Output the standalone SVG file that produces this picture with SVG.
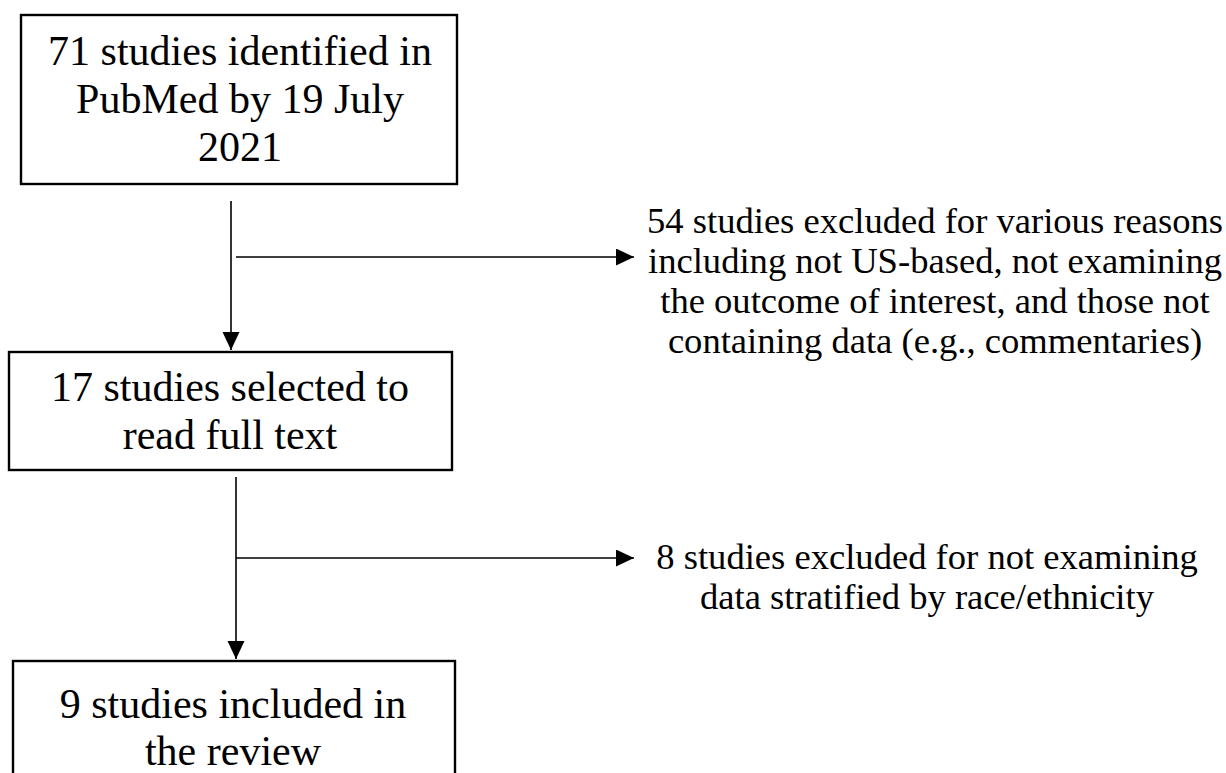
<svg xmlns="http://www.w3.org/2000/svg" width="1226" height="773" viewBox="0 0 1226 773">
  <style>
    .box { fill: #ffffff; stroke: #000000; stroke-width: 2.4; }
    .conn { stroke: #000000; stroke-width: 1.6; fill: none; }
    .t { font-family: "Liberation Serif", "Times New Roman", serif; fill: #000000; text-anchor: middle; }
    .big { font-size: 42px; }
    .small { font-size: 36.6px; }
  </style>
  <defs>
    <marker id="arrow" markerUnits="userSpaceOnUse" markerWidth="18" markerHeight="18" refX="18" refY="8.5" orient="auto">
      <path d="M0,0 L18,8.5 L0,17 Z" fill="#000000"/>
    </marker>
  </defs>
  <rect x="0" y="0" width="1226" height="773" fill="#ffffff"/>

  <g id="node-identified">
    <rect class="box" x="21" y="15" width="436" height="169"/>
    <text class="t big" x="240" y="65">71 studies identified in</text>
    <text class="t big" x="240" y="113">PubMed by 19 July</text>
    <text class="t big" x="240" y="161">2021</text>
  </g>

  <g id="node-selected">
    <rect class="box" x="9" y="352" width="443" height="118"/>
    <text class="t big" x="230" y="401">17 studies selected to</text>
    <text class="t big" x="230" y="449">read full text</text>
  </g>

  <g id="node-included">
    <rect class="box" x="13" y="661" width="442" height="130"/>
    <text class="t big" x="233" y="718">9 studies included in</text>
    <text class="t big" x="233" y="765">the review</text>
  </g>

  <g id="node-excluded-54">
    <text class="t small" x="935" y="233">54 studies excluded for various reasons</text>
    <text class="t small" x="935" y="273">including not US-based, not examining</text>
    <text class="t small" x="935" y="313">the outcome of interest, and those not</text>
    <text class="t small" x="935" y="353">containing data (e.g., commentaries)</text>
  </g>

  <g id="node-excluded-8">
    <text class="t small" x="927" y="569">8 studies excluded for not examining</text>
    <text class="t small" x="927" y="609">data stratified by race/ethnicity</text>
  </g>

  <g id="connectors">
    <line class="conn" x1="231" y1="201" x2="231" y2="350" marker-end="url(#arrow)"/>
    <line class="conn" x1="236" y1="257" x2="634" y2="257" marker-end="url(#arrow)"/>
    <line class="conn" x1="236" y1="477" x2="236" y2="659" marker-end="url(#arrow)"/>
    <line class="conn" x1="236" y1="558" x2="634" y2="558" marker-end="url(#arrow)"/>
  </g>
</svg>
